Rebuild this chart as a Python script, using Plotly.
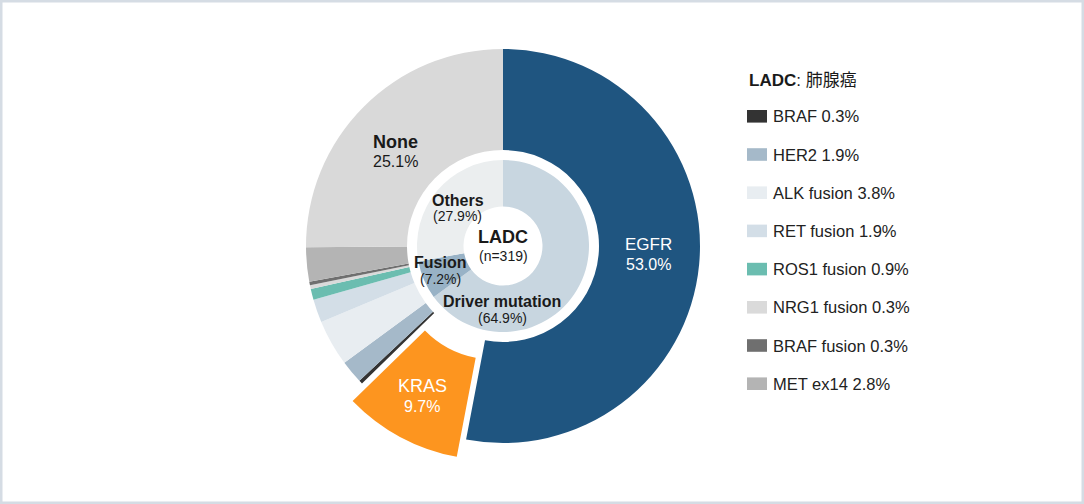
import plotly.graph_objects as go

# ---------------- data ----------------
outer_labels = ["EGFR", "KRAS", "BRAF", "HER2", "ALK fusion", "RET fusion",
                "ROS1 fusion", "NRG1 fusion", "BRAF fusion", "MET ex14", "None"]
outer_values = [53.0, 9.7, 0.3, 1.9, 3.8, 1.9, 0.9, 0.3, 0.3, 2.8, 25.1]
outer_colors = ["#1f5580", "#fd951f", "#333333", "#a5b9c9", "#e8edf1", "#d3dee7",
                "#6bbdb0", "#dadada", "#6f6f6f", "#b4b4b4", "#d9d9d9"]
pulled_label = "KRAS"

inner_labels = ["Driver mutation", "Fusion", "Others"]
inner_values = [64.9, 7.2, 27.9]
inner_colors = ["#c8d6e0", "#98b2c6", "#ebeeef"]

center_title = "LADC"
center_n = 319

legend_title_bold = "LADC"
legend_title_rest = ": 肺腺癌"
legend_labels = ["BRAF", "HER2", "ALK fusion", "RET fusion", "ROS1 fusion",
                 "NRG1 fusion", "BRAF fusion", "MET ex14"]

# ---------------- layout geometry (pixels) ----------------
W, H = 1084, 504
CX, CY = 503, 246
R_OUT, R_OUT_HOLE = 197, 96
R_IN, R_IN_HOLE = 86, 39.5
PULL = 0.1

FONT = "Liberation Sans, Noto Sans CJK JP, sans-serif"
TXT = "#1a1a1a"


def px(x):
    return x / W


def py(y):
    return 1 - y / H


def domain(radius, pull):
    half = radius * (1 + pull)
    return dict(x=[px(CX - half), px(CX + half)],
                y=[(H - CY - half) / H, (H - CY + half) / H])


fig = go.Figure()

fig.add_trace(go.Pie(
    labels=outer_labels, values=outer_values, sort=False, direction="clockwise",
    rotation=0, hole=R_OUT_HOLE / R_OUT,
    pull=[PULL if l == pulled_label else 0 for l in outer_labels],
    marker=dict(colors=outer_colors, line=dict(width=0)),
    textinfo="none", hoverinfo="label+value", showlegend=False,
    domain=domain(R_OUT, PULL),
))

fig.add_trace(go.Pie(
    labels=inner_labels, values=inner_values, sort=False, direction="clockwise",
    rotation=0, hole=R_IN_HOLE / R_IN,
    marker=dict(colors=inner_colors, line=dict(width=0)),
    textinfo="none", hoverinfo="label+value", showlegend=False,
    domain=domain(R_IN, 0),
))

annotations = []


def label(text, x, y, size, color=TXT, xanchor="center"):
    annotations.append(dict(text=text, x=px(x), y=py(y), xref="paper", yref="paper",
                            showarrow=False, xanchor=xanchor, yanchor="middle",
                            font=dict(family=FONT, size=size, color=color)))


ov = dict(zip(outer_labels, outer_values))
iv = dict(zip(inner_labels, inner_values))

# outer labels
label("EGFR", 648, 244, 17, "white")
label(f"{ov['EGFR']:.1f}%", 648, 264, 16, "white")
label("KRAS", 422, 386, 18, "white")
label(f"{ov['KRAS']:.1f}%", 422, 406, 16, "white")
label("<b>None</b>", 395, 142, 18)
label(f"{ov['None']:.1f}%", 395, 161, 16)

# inner labels
label("<b>Others</b>", 458, 200.5, 16)
label(f"({iv['Others']:.1f}%)", 457, 216, 14)
label("<b>Fusion</b>", 440, 262.5, 16)
label(f"({iv['Fusion']:.1f}%)", 440.5, 279, 14)
label("<b>Driver mutation</b>", 502, 301, 16)
label(f"({iv['Driver mutation']:.1f}%)", 502.5, 318, 14)

# center
label(f"<b>{center_title}</b>", 503, 236.5, 18)
label(f"(n={center_n})", 503.5, 256, 14)

# manual legend
shapes = []
label(f"<b>{legend_title_bold}</b>{legend_title_rest}", 746.5, 80, 17, xanchor="left")
color_of = dict(zip(outer_labels, outer_colors))
for i, name in enumerate(legend_labels):
    yc = 116.3 + 38.2 * i
    shapes.append(dict(type="rect", xref="paper", yref="paper",
                       x0=px(747), x1=px(767), y0=py(yc - 6.3), y1=py(yc + 6.3),
                       fillcolor=color_of[name], line=dict(width=0)))
    label(f"{name} {ov[name]:.1f}%", 771, yc, 16.5, "#222222", xanchor="left")

# frame border
shapes.append(dict(type="rect", xref="paper", yref="paper", x0=0, x1=1, y0=0, y1=1,
                   line=dict(color="#d5dce4", width=5), fillcolor="rgba(0,0,0,0)",
                   layer="above"))

fig.update_layout(
    width=W, height=H, margin=dict(l=0, r=0, t=0, b=0),
    paper_bgcolor="white", plot_bgcolor="white",
    annotations=annotations, shapes=shapes, showlegend=False,
    font=dict(family=FONT),
)

fig.write_html(
    "out.html",
    config={"displayModeBar": False},
    post_script="document.body.style.margin='0';document.body.style.padding='0';"
                "document.body.style.overflow='hidden';",
)
